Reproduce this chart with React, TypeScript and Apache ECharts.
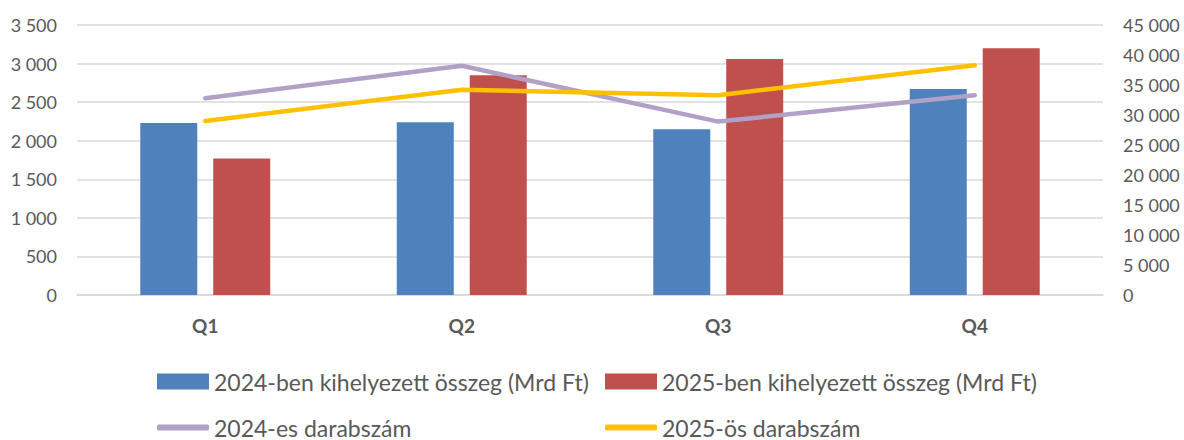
import React, { useEffect, useRef } from "react";
import * as echarts from "echarts";

const categories = ["Q1", "Q2", "Q3", "Q4"];
const amount2024 = [2230, 2240, 2150, 2670];
const amount2025 = [1770, 2850, 3060, 3200];
const count2024 = [32800, 38200, 28900, 33300];
const count2025 = [29000, 34200, 33300, 38300];

const names = [
  "2024-ben kihelyezett összeg (Mrd Ft)",
  "2025-ben kihelyezett összeg (Mrd Ft)",
  "2024-es darabszám",
  "2025-ös darabszám",
];

const FONT = "Lato";
const TXT = "#595959";
const fmt = (v: number) => String(v).replace(/\B(?=(\d{3})+(?!\d))/g, " ");

export default function App() {
  const ref = useRef<HTMLDivElement>(null);
  useEffect(() => {
    const chart = echarts.init(ref.current!, null, { renderer: "svg" });
    const lg = (name: string, left: number, top: number, isLine: boolean) => ({
      left,
      top,
      padding: 0,
      itemWidth: 52,
      itemHeight: isLine ? 6 : 16,
      data: [{ name, icon: isLine ? "roundRect" : "rect" }],
      textStyle: { color: TXT, fontFamily: FONT, fontSize: 23, lineHeight: 16 },
    });
    chart.setOption({
      animation: false,
      textStyle: { fontFamily: FONT },
      grid: { left: 77, right: 81, top: 25, bottom: 145 },
      legend: [
        lg(names[0], 157, 370, false),
        lg(names[1], 605, 370, false),
        lg(names[2], 157, 416, true),
        lg(names[3], 605, 416, true),
      ],
      xAxis: {
        type: "category",
        data: categories,
        axisTick: { show: false },
        axisLine: { lineStyle: { color: "#D9D9D9", width: 1.5 } },
        axisLabel: { color: TXT, fontFamily: FONT, fontSize: 19, fontWeight: "bold", margin: 21 },
      },
      yAxis: [
        {
          type: "value",
          min: 0,
          max: 3500,
          interval: 500,
          axisLine: { show: false },
          axisTick: { show: false },
          splitLine: { lineStyle: { color: "#D9D9D9", width: 1.5 } },
          axisLabel: { color: TXT, fontFamily: FONT, fontSize: 18, margin: 20, formatter: fmt },
        },
        {
          type: "value",
          min: 0,
          max: 45000,
          interval: 5000,
          axisLine: { show: false },
          axisTick: { show: false },
          splitLine: { show: false },
          axisLabel: { color: TXT, fontFamily: FONT, fontSize: 18, margin: 20, formatter: fmt },
        },
      ],
      series: [
        { name: names[0], type: "bar", data: amount2024, barWidth: 57, barGap: "28%", itemStyle: { color: "#4F81BD" } },
        { name: names[1], type: "bar", data: amount2025, barWidth: 57, barGap: "28%", itemStyle: { color: "#C0504D" } },
        {
          name: names[2], type: "line", yAxisIndex: 1, data: count2024, symbol: "none",
          lineStyle: { color: "#B2A1C7", width: 4.5, cap: "round" }, itemStyle: { color: "#B2A1C7" },
        },
        {
          name: names[3], type: "line", yAxisIndex: 1, data: count2025, symbol: "none",
          lineStyle: { color: "#FFC000", width: 4.5, cap: "round" }, itemStyle: { color: "#FFC000" },
        },
      ],
    });
    return () => chart.dispose();
  }, []);
  return <div ref={ref} style={{ width: 1184, height: 440, position: "absolute", left: 0, top: 0 }} />;
}
